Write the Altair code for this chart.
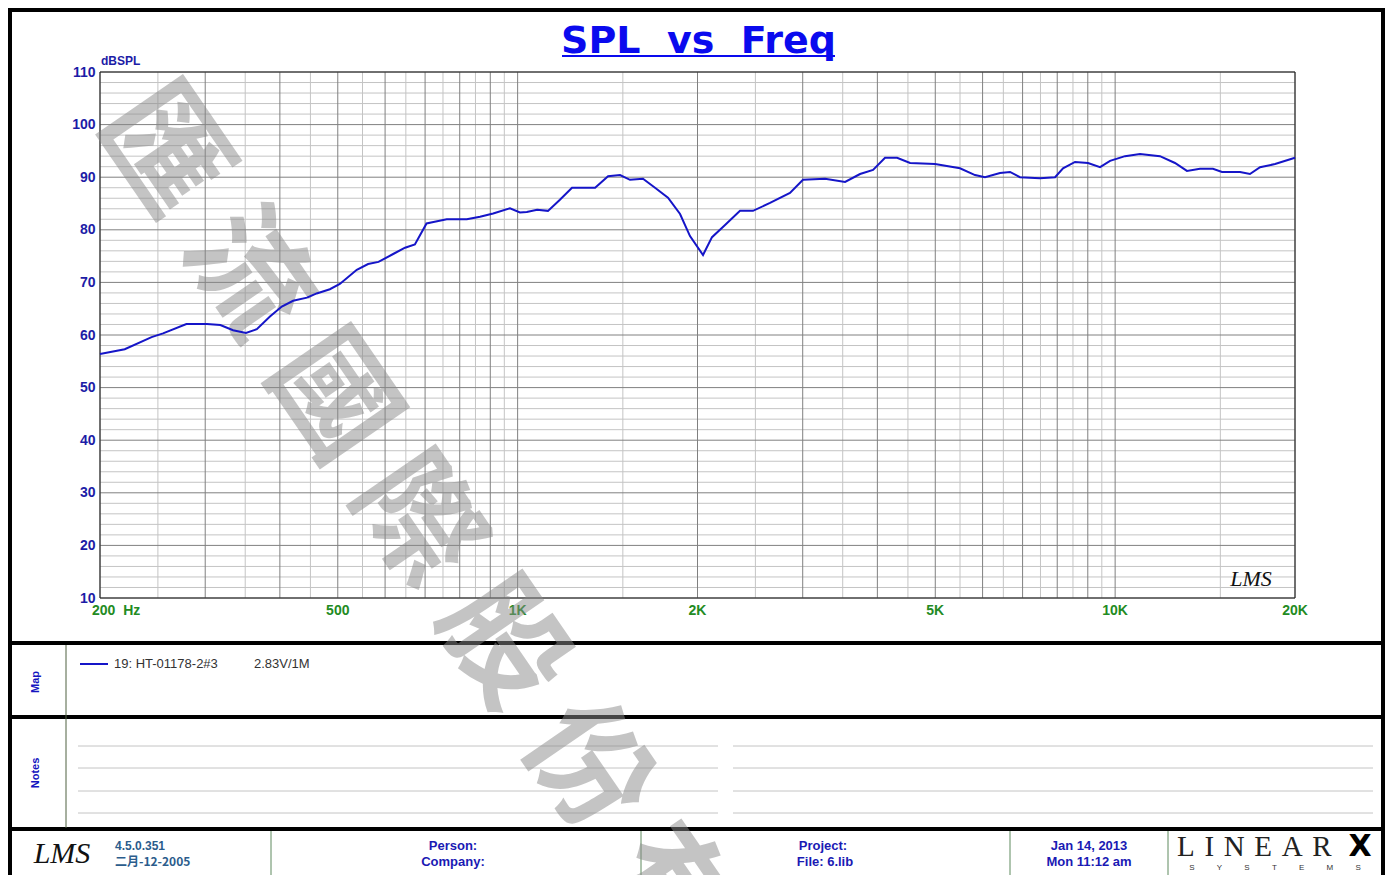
import altair as alt
import pandas as pd

# ---------------- data ----------------
freq_hz = [200, 220, 244, 255, 279, 302, 318, 334, 351, 366,
           385, 403, 421, 444, 461, 485, 504, 538, 562, 585,
           619, 648, 673, 704, 723, 761, 822, 865, 910, 971,
           1009, 1036, 1078, 1124, 1177, 1233, 1348, 1417, 1484, 1542,
           1621, 1698, 1785, 1870, 1943, 2043, 2115, 2224, 2356, 2477,
           2645, 2856, 3003, 3270, 3532, 3742, 3934, 4120, 4316, 4537,
           4996, 5500, 5828, 6056, 6417, 6670, 6930, 7486, 7934, 8181,
           8568, 9008, 9436, 9806, 10388, 11006, 11886, 12594, 13188, 13868,
           14580, 15094, 16184, 16812, 17480, 18520, 20000]
spl_db = [56.4, 57.3, 59.6, 60.3, 62.1, 62.1, 61.9, 60.9, 60.4, 61.1,
          63.5, 65.4, 66.5, 67.1, 67.9, 68.7, 69.7, 72.4, 73.5, 73.9,
          75.4, 76.6, 77.2, 81.2, 81.5, 82.0, 82.0, 82.5, 83.1, 84.1,
          83.3, 83.4, 83.8, 83.6, 85.7, 88.0, 88.0, 90.2, 90.4, 89.5,
          89.7, 88.0, 86.1, 83.0, 78.8, 75.2, 78.6, 80.9, 83.6, 83.6,
          85.1, 87.0, 89.5, 89.7, 89.1, 90.6, 91.4, 93.7, 93.7, 92.7,
          92.5, 91.7, 90.4, 90.0, 90.8, 91.0, 90.0, 89.8, 90.0, 91.7,
          92.9, 92.7, 91.9, 93.1, 94.0, 94.4, 94.0, 92.7, 91.2, 91.6,
          91.6, 91.0, 91.0, 90.6, 91.9, 92.5, 93.7]

y_ticks = [10, 20, 30, 40, 50, 60, 70, 80, 90, 100, 110]
y_minor = [v for v in range(10, 111, 2) if v % 10 != 0]
x_major = [200, 300, 400, 500, 600, 700, 800, 900, 1000,
           2000, 3000, 4000, 5000, 6000, 7000, 8000, 9000, 10000, 20000]
x_minor = [250, 350, 450, 550, 650, 750, 850, 950, 1500,
           2500, 3500, 4500, 5500, 6500, 7500, 8500, 9500, 15000]
x_label_f = [500, 1000, 2000, 5000, 10000, 20000]
x_label_t = ["500", "1K", "2K", "5K", "10K", "20K"]

NB = "\u00a0"
HAIR = "\u200a"
first_label = "200" + NB * 2 + "Hz"
title_text = "SPL" + NB * 2 + "vs" + NB * 2 + "Freq"
y_unit = "dBSPL"
legend_text = "19: HT-01178-2#3" + NB * 10 + "2.83V/1M"
watermark = NB.join("匯流國際股份有限公司")
linear_text = (NB + HAIR).join("LINEAR")
systems_text = (NB * 10).join("SYSTEMS")

W, H = 1195, 526
PX0, PY0 = 100, 72  # page position of plot origin

xscale = alt.Scale(type="log", domain=[200, 20000], nice=False)
yscale = alt.Scale(domain=[10, 110], nice=False, zero=False)
yaxis = alt.Axis(values=y_ticks, labelColor="#1c1ca6", labelFont="Liberation Sans",
                 labelFontWeight="bold", labelFontSize=14, ticks=False, tickSize=0,
                 domain=False, grid=False, title=None, labelPadding=5)
X = alt.X("f:Q", scale=xscale, axis=None)
Y = alt.Y("db:Q", scale=yscale, axis=yaxis)

one = pd.DataFrame({"a": [0]})
NARROW = "'Liberation Sans Narrow', 'Liberation Sans', Arial"


def px(x):
    return x - PX0


def py(y):
    return y - PY0


def seg(x1, y1, x2, y2, color, w=1.0):
    return alt.Chart(one).mark_rule(color=color, strokeWidth=w).encode(
        x=alt.value(px(x1)), x2=alt.value(px(x2)), y=alt.value(py(y1)), y2=alt.value(py(y2)))


def txt(t, x, y, size, color, weight="normal", align="center", font="Liberation Sans",
        baseline="middle", style="normal", angle=0, opacity=1.0):
    return alt.Chart(pd.DataFrame({"t": [t]})).mark_text(
        align=align, baseline=baseline, fontSize=size, color=color, fontWeight=weight,
        font=font, fontStyle=style, angle=angle, opacity=opacity).encode(
        x=alt.value(px(x)), y=alt.value(py(y)), text="t:N")


layers = []

# grid
layers.append(alt.Chart(pd.DataFrame({"db": y_minor})).mark_rule(color="#c4c4c4", strokeWidth=1).encode(y=Y))
layers.append(alt.Chart(pd.DataFrame({"f": x_minor})).mark_rule(color="#c4c4c4", strokeWidth=1).encode(x=X))
layers.append(alt.Chart(pd.DataFrame({"db": y_ticks})).mark_rule(color="#808080", strokeWidth=1).encode(y=Y))
layers.append(alt.Chart(pd.DataFrame({"f": x_major})).mark_rule(color="#808080", strokeWidth=1).encode(x=X))

# plot frame
layers.append(alt.Chart(one).mark_rect(filled=False, stroke="#202020", strokeWidth=1).encode(
    x=alt.value(0), x2=alt.value(W), y=alt.value(0), y2=alt.value(H)))

# x labels
layers.append(alt.Chart(pd.DataFrame({"f": x_label_f, "t": x_label_t})).mark_text(
    align="center", baseline="middle", fontSize=14, fontWeight="bold", font=NARROW,
    color="#238b23").encode(x=X, y=alt.value(py(611)), text="t:N"))
layers.append(alt.Chart(pd.DataFrame({"f": [200], "t": [first_label]})).mark_text(
    align="left", baseline="middle", fontSize=14, fontWeight="bold", font=NARROW,
    color="#238b23", dx=-8).encode(x=X, y=alt.value(py(611)), text="t:N"))

# title
layers.append(txt(title_text, 698.5, 53, 38, "#0a0aee", weight="bold", font="DejaVu Sans",
                  baseline="alphabetic"))
layers.append(seg(562, 56, 835, 56, "#0a0aee", 2))
layers.append(txt(y_unit, 101, 61, 12, "#1c1ca6", weight="bold", align="left"))
layers.append(txt("LMS", 1251, 579, 22, "#111111", style="italic", font="Liberation Serif"))

# outer frame and panels
RB = 1383
layers.append(seg(8, 10, RB + 2, 10, "#000000", 4))
layers.append(seg(10, 8, 10, 880, "#000000", 4))
layers.append(seg(RB, 8, RB, 880, "#000000", 4))
layers.append(seg(8, 643, RB + 2, 643, "#000000", 4))
layers.append(seg(8, 717, RB + 2, 717, "#000000", 4))
layers.append(seg(8, 829, RB + 2, 829, "#000000", 4))
layers.append(seg(66, 645, 66, 828, "#4f6040", 1))
for xd in [271, 641, 1010, 1168]:
    layers.append(seg(xd, 831, xd, 880, "#5f8a5f", 1))

# map panel
layers.append(txt("Map", 36, 682, 11, "#1515c0", weight="bold", angle=270, font=NARROW))
layers.append(seg(80, 664, 108, 664, "#1515c8", 2))
layers.append(txt(legend_text, 114, 664, 13, "#333333", align="left"))

# notes panel
layers.append(txt("Notes", 36, 773, 11, "#1515c0", weight="bold", angle=270, font=NARROW))
for yn in [746, 768, 791, 813]:
    layers.append(seg(78, yn, 718, yn, "#c4c4c4", 1))
    layers.append(seg(733, yn, 1373, yn, "#c4c4c4", 1))

# footer
layers.append(txt("LMS", 62, 854, 30, "#111111", style="italic", font="Liberation Serif"))
layers.append(txt("4.5.0.351", 115, 846, 12, "#2b5c8c", weight="bold", align="left", font=NARROW))
layers.append(txt("二月-12-2005", 115, 862, 12, "#2b5c8c", weight="bold", align="left",
                  font="'Noto Sans CJK SC', 'Liberation Sans'"))
layers.append(txt("Person:", 453, 846, 13, "#1a1ab4", weight="bold", font=NARROW))
layers.append(txt("Company:", 453, 862, 13, "#1a1ab4", weight="bold", font=NARROW))
layers.append(txt("Project:", 823, 846, 13, "#1a1ab4", weight="bold", font=NARROW))
layers.append(txt("File: 6.lib", 825, 862, 13, "#1a1ab4", weight="bold", font=NARROW))
layers.append(txt("Jan 14, 2013", 1089, 846, 13, "#1a1ab4", weight="bold", font=NARROW))
layers.append(txt("Mon 11:12 am", 1089, 862, 13, "#1a1ab4", weight="bold", font=NARROW))
layers.append(txt(linear_text, 1177, 847, 29, "#222222", align="left", font="Liberation Serif"))
layers.append(txt("X", 1360, 847, 30, "#000000", weight="bold", font="DejaVu Sans"))
layers.append(txt(systems_text, 1275, 868, 8, "#333333", font="Liberation Sans"))

# watermark
layers.append(txt(watermark, 126, 102, 122, "#8a8a8a", weight="bold", align="left",
                  font="'Noto Sans CJK TC'", angle=55.5, opacity=0.5))

# response curve
curve = alt.Chart(pd.DataFrame({"f": freq_hz, "db": spl_db})).mark_line(
    color="#1515c8", strokeWidth=2).encode(x=X, y=Y)
layers.append(curve)

chart = alt.layer(*layers).properties(
    width=W, height=H,
    autosize=alt.AutoSizeParams(type="none"),
    padding={"left": 92, "top": 64, "right": 90, "bottom": 277},
    background="white",
).configure_view(stroke=None)

chart.save("out.html", embed_options={"renderer": "svg", "actions": False})
